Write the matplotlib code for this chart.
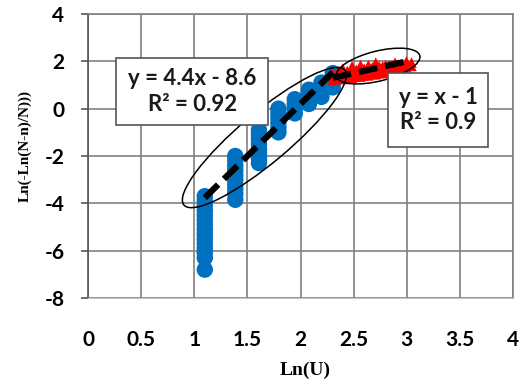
import numpy as np
import matplotlib
matplotlib.use("Agg")
import matplotlib.pyplot as plt
from matplotlib.patches import Ellipse, Rectangle
from matplotlib import transforms

# kolom x = ln(U), U = 3..10 (biru) dan 10..21 (merah)
x_biru = [1.099, 1.386, 1.609, 1.792, 1.946, 2.079, 2.197, 2.303]
y_biru = [
    [-3.7, -3.9, -4.1, -4.3, -4.5, -4.7, -4.9, -5.1, -5.3, -5.5, -5.7, -5.9, -6.1, -6.3, -6.8],
    [-2.0, -2.2, -2.4, -2.6, -2.8, -3.0, -3.2, -3.4, -3.6, -3.85],
    [-0.9, -1.1, -1.3, -1.5, -1.7, -1.9, -2.1, -2.3],
    [0.0, -0.2, -0.4, -0.6, -0.8, -1.0],
    [0.4, 0.2, 0.0, -0.2],
    [0.8, 0.6, 0.4, 0.2],
    [1.1, 0.9, 0.7, 0.5],
    [1.5, 1.3, 1.1, 0.9],
]
x_merah = [2.303, 2.35, 2.398, 2.44, 2.485, 2.525, 2.565, 2.60, 2.639, 2.675,
           2.708, 2.74, 2.773, 2.80, 2.833, 2.86, 2.890, 2.92, 2.944, 2.97, 2.996, 3.045]
y_merah = [
    [1.2, 1.35, 1.5],
    [1.25, 1.4, 1.55],
    [1.25, 1.4, 1.55, 1.7],
    [1.3, 1.45, 1.6],
    [1.3, 1.45, 1.6, 1.8],
    [1.35, 1.5, 1.65],
    [1.35, 1.5, 1.65, 1.85],
    [1.4, 1.55, 1.7],
    [1.4, 1.55, 1.7, 1.85],
    [1.45, 1.6, 1.75],
    [1.45, 1.6, 1.75, 1.95],
    [1.5, 1.65, 1.8],
    [1.5, 1.65, 1.8],
    [1.55, 1.7, 1.85],
    [1.55, 1.7, 1.85],
    [1.6, 1.75, 1.85],
    [1.6, 1.75, 1.95],
    [1.65, 1.8],
    [1.7, 1.85],
    [1.7, 1.85],
    [1.75, 1.9, 2.0],
    [1.8, 1.95],
]

# garis tren
fit_biru = (4.4, -8.6, 1.099, 2.303)
fit_merah = (1.0, -1.0, 2.303, 3.045)
teks_biru = "y = 4.4x - 8.6\nR² = 0.92"
teks_merah = "y = x - 1\nR² = 0.9"

xticks = [0, 0.5, 1, 1.5, 2, 2.5, 3, 3.5, 4]
yticks = [-8, -6, -4, -2, 0, 2, 4]

FONT_ANGKA = ["Lato", "DejaVu Sans"]
FONT_JUDUL = ["Liberation Serif", "DejaVu Serif"]

fig = plt.figure(figsize=(5.22, 3.87), dpi=100)
ax = fig.add_axes([0.1686, 0.23, 0.8142, 0.7338])
ax.set_xlim(0, 4)
ax.set_ylim(-8, 4)

xb = np.concatenate([[x] * len(ys) for x, ys in zip(x_biru, y_biru)])
yb = np.concatenate(y_biru)
xm = np.concatenate([[x] * len(ys) for x, ys in zip(x_merah, y_merah)])
ym = np.concatenate(y_merah)

ax.scatter(xb, yb, s=140, color="#0070C0", edgecolors="none", zorder=3)
ax.scatter(xm, ym, s=55, marker="^", color="#FF0000", edgecolors="none", zorder=3)

for a, b, x0, x1 in (fit_biru, fit_merah):
    xs = np.array([x0, x1])
    ax.plot(xs, a * xs + b, color="black", lw=4.5, ls=(0, (3.0, 1.3)),
            solid_capstyle="butt", zorder=4)

# elips penanda (ukuran dalam piksel, pusat dalam data)
for cx, cy, w, h, ang in [(1.66, -1.22, 210, 50, 40), (2.73, 1.8, 86, 30, 14)]:
    tr = fig.dpi_scale_trans + transforms.ScaledTranslation(cx, cy, ax.transData)
    ax.add_patch(Ellipse((0, 0), w / 100, h / 100, angle=ang, transform=tr,
                         fill=False, ec="black", lw=1.1, zorder=5))

# kotak persamaan (koordinat axes)
for (bx, by, bw, bh), teks in [((0.066, 0.609, 0.358, 0.236), teks_biru),
                               ((0.706, 0.532, 0.235, 0.261), teks_merah)]:
    ax.add_patch(Rectangle((bx, by), bw, bh, transform=ax.transAxes, fc="white",
                           ec="#555555", lw=1.2, zorder=6))
    ax.text(bx + bw / 2, by + bh / 2, teks, transform=ax.transAxes, ha="center",
            va="center", fontsize=16, family=FONT_ANGKA, fontweight="bold",
            linespacing=1.25, color="#1a1a1a", zorder=7)

ax.set_xticks(xticks)
ax.set_yticks(yticks)
ax.set_xticklabels([str(t) for t in xticks], family=FONT_ANGKA, fontweight="bold", fontsize=15)
ax.set_yticklabels([str(t) for t in yticks], family=FONT_ANGKA, fontweight="bold", fontsize=15)
ax.tick_params(axis="x", length=0, pad=23)
ax.tick_params(axis="y", length=5, width=1.2, color="#555555", pad=12)
ax.grid(True, color="#808080", lw=1.2)
ax.set_axisbelow(True)
for s in ("top", "right"):
    ax.spines[s].set_color("#808080")
    ax.spines[s].set_linewidth(1.2)
ax.spines["bottom"].set_color("#C8C8C8")
ax.spines["left"].set_color("#555555")
ax.spines["left"].set_linewidth(1.2)

ax.set_xlabel("Ln(U)", family=FONT_JUDUL, fontweight="bold", fontsize=14)
ax.set_ylabel("Ln(-Ln(N-n)/N)))", family=FONT_JUDUL, fontweight="bold", fontsize=11)
ax.xaxis.set_label_coords(0.51, -0.225)
ax.yaxis.set_label_coords(-0.132, 0.535)

fig.savefig("out.png", dpi=100)
